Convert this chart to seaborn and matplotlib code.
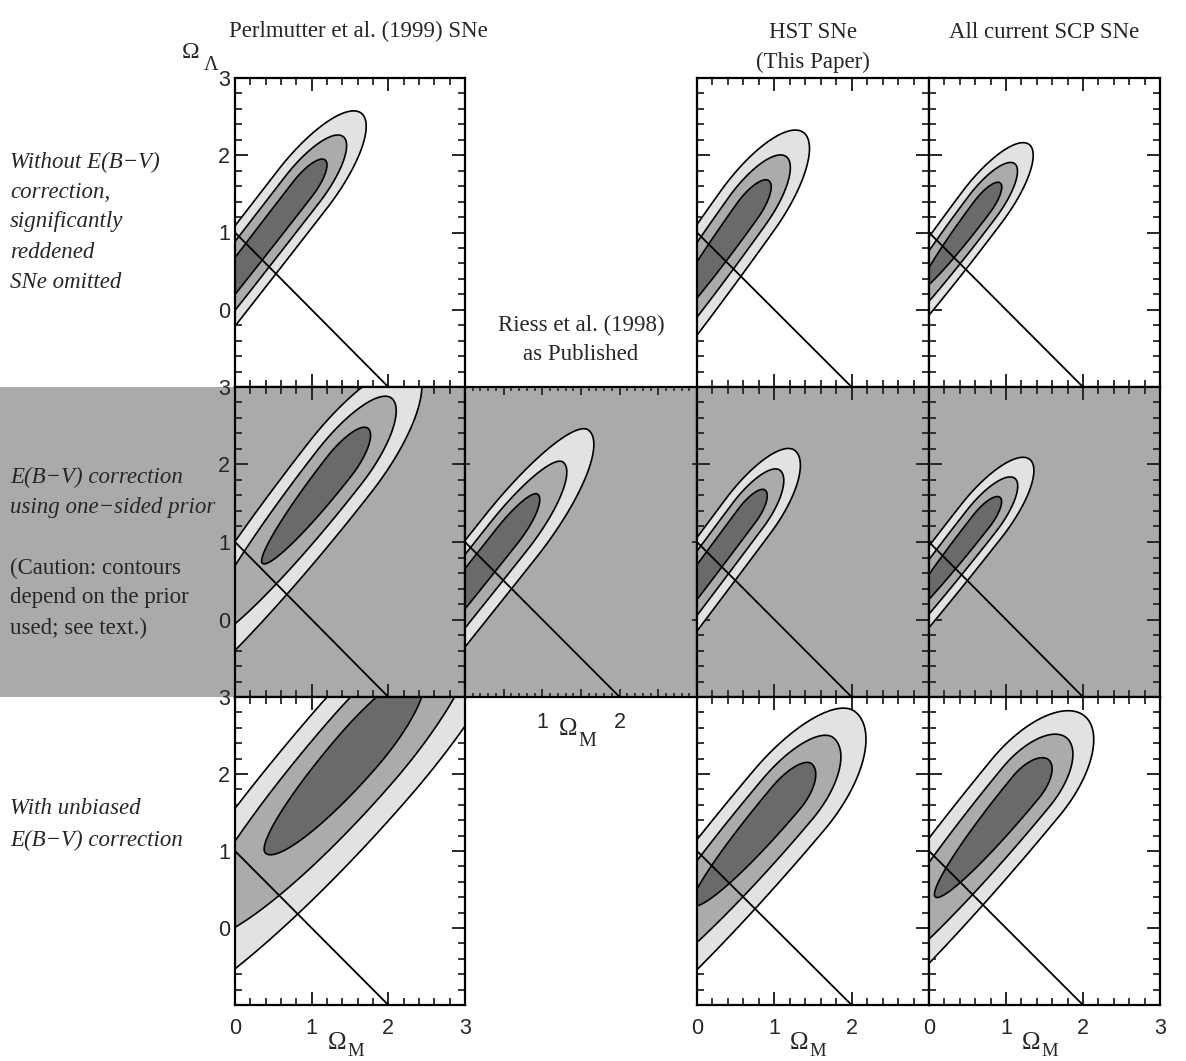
import numpy as np
import seaborn as sns
import matplotlib
matplotlib.use("Agg")
import matplotlib.pyplot as plt
from matplotlib.patches import Rectangle
from matplotlib.ticker import MultipleLocator

sns.set_style("ticks")
plt.rcParams['font.family'] = ['Liberation Sans', 'DejaVu Sans']
SERIF = ['Liberation Serif', 'DejaVu Serif']

# ---- data ----
col_titles = [["Perlmutter et al. (1999) SNe"], ["Riess et al. (1998)", "as Published"],
              ["HST SNe", "(This Paper)"], ["All current SCP SNe"]]
row_notes = [
    ["Without E(B\u2212V)", "correction,", "significantly", "reddened", "SNe omitted"],
    ["E(B\u2212V) correction", "using one\u2212sided prior", "",
     "(Caution: contours", "depend on the prior", "used; see text.)"],
    ["With unbiased", "E(B\u2212V) correction"],
]
row_note_italic = [[1, 1, 1, 1, 1], [1, 1, 0, 0, 0, 0], [1, 1]]

# one entry per panel: likelihood peak, tilt and widths of the contours
panel_row = [0, 0, 0, 1, 1, 1, 1, 2, 2, 2]
panel_col = [0, 2, 3, 0, 1, 2, 3, 0, 2, 3]
peak_om = [0.88, 0.65, 0.69, 1.35, 0.53, 0.64, 0.68, 1.58, 1.13, 1.26]
peak_ol = [1.56, 1.28, 1.33, 1.98, 1.10, 1.35, 1.27, 2.33, 1.71, 1.83]
tilt_deg = [52.0, 54.5, 53.0, 51.7, 51.5, 53.2, 51.7, 49.0, 50.0, 50.5]
sig_up = [0.48, 0.48, 0.39, 0.62, 0.66, 0.40, 0.39, 1.30, 0.55, 0.46]
sig_down = [4.5, 2.0, 1.34, 1.6, 5.0, 4.0, 1.72, 1.80, 1.85, 1.85]
sig_perp_hi = [0.155, 0.165, 0.125, 0.19, 0.14, 0.13, 0.13, 0.28, 0.20, 0.22]   # upper-left flank
sig_perp_lo = [0.155, 0.165, 0.125, 0.21, 0.19, 0.15, 0.13, 0.36, 0.26, 0.22]   # lower-right flank
dchi2 = [1.0, 3.24, 6.76]

# flat universe line
flat_om = [0.0, 2.0]
flat_ol = [1.0, -1.0]

fills = ['#6a6a6a', '#ababab', '#e2e2e2']
band_gray = '#aaaaaa'

# ---- layout (pixels of the original) ----
W, H = 1186, 1061
col_x = [235, 465, 697, 929, 1160]
row_y = [78, 387, 697, 1005]
unit = 77.0

fig = plt.figure(figsize=(W / 100, H / 100), dpi=100)
fig.add_artist(Rectangle((0, 1 - row_y[2] / H), col_x[4] / W, (row_y[2] - row_y[1]) / H,
                         transform=fig.transFigure, facecolor=band_gray, edgecolor='none', zorder=0))


def ftext(px, py, s, **kw):
    return fig.text(px / W, 1 - py / H, s, **kw)


om = np.linspace(-0.3, 3.3, 540)
ol = np.linspace(-1.3, 3.3, 690)
OM, OL = np.meshgrid(om, ol)


def chi2_surface(i):
    t = np.radians(tilt_deg[i])
    dx, dy = OM - peak_om[i], OL - peak_ol[i]
    u = dx * np.cos(t) + dy * np.sin(t)
    v = -dx * np.sin(t) + dy * np.cos(t)
    su = np.where(u > 0, sig_up[i], sig_down[i])
    sv = np.where(v > 0, sig_perp_hi[i], sig_perp_lo[i])
    return (u / su) ** 2 + (v / sv) ** 2


for i in range(len(panel_row)):
    r, c = panel_row[i], panel_col[i]
    ax = fig.add_axes([col_x[c] / W, 1 - row_y[r + 1] / H,
                       (col_x[c + 1] - col_x[c]) / W, (row_y[r + 1] - row_y[r]) / H])
    ax.set_facecolor(band_gray if r == 1 else 'white')
    z = chi2_surface(i)
    ax.contourf(OM, OL, z, levels=[0] + dchi2, colors=fills)
    ax.contour(OM, OL, z, levels=dchi2, colors='black', linewidths=1.2)
    sns.lineplot(x=flat_om, y=flat_ol, ax=ax, color='black', lw=1.3,
                 sort=False, estimator=None, legend=False)
    ax.set_xlim(0, 3)
    ax.set_ylim(-1, 3)
    ax.set_xlabel('')
    ax.set_ylabel('')
    for sp in ax.spines.values():
        sp.set_linewidth(1.6)
        sp.set_color('black')
        sp.set_visible(True)

    if c == 1:
        ax.set_xticks(np.arange(0, 3.01, 0.5))
        ax.xaxis.set_minor_locator(MultipleLocator(0.1))
        ax.set_xticklabels(['', '', '1', '', '2', '', ''])
        ax.set_yticks([-1, 0, 1, 2, 3])
        ax.tick_params(axis='x', which='major', length=6, width=1.3)
        ax.tick_params(axis='x', which='minor', length=3.2, width=1.2)
        ax.tick_params(axis='y', which='major', length=3.6, width=1.3)
        ax.tick_params(which='both', direction='in', top=True, right=True,
                       labelleft=False, labelbottom=True, labelsize=15.5, pad=11)
    else:
        ax.set_xticks([0, 1, 2, 3])
        ax.set_yticks([-1, 0, 1, 2, 3])
        ax.xaxis.set_minor_locator(MultipleLocator(0.2))
        ax.yaxis.set_minor_locator(MultipleLocator(0.2))
        ax.set_xticklabels(['0', '1', '2', ''] if c == 2 else ['0', '1', '2', '3'])
        ax.set_yticklabels(['', '0', '1', '2', '3'])
        ax.tick_params(which='major', length=9.5, width=1.4)
        ax.tick_params(which='minor', length=4.7, width=1.3)
        ax.tick_params(which='both', direction='in', top=True, right=True,
                       labelleft=(c == 0), labelbottom=(r == 2), labelsize=15.5)
        ax.tick_params(axis='x', pad=9.5)
        ax.tick_params(axis='y', pad=3.5)

# ---- titles ----
title_pos = [[(358, 31)], [(581, 325), (581, 355)], [(813, 32), (813, 62)], [(1044, 32)]]
for lines, spots in zip(col_titles, title_pos):
    for s, (px, py) in zip(lines, spots):
        ftext(px, py, s, family=SERIF, fontsize=16.5, ha='center', va='center')

# ---- row notes ----
note_y = [[162, 192, 222, 253, 283], [477, 507, 537, 568, 598, 628], [808, 840]]
for lines, flags, ys in zip(row_notes, row_note_italic, note_y):
    for s, it, y in zip(lines, flags, ys):
        ftext(10, y, s, family=SERIF, fontsize=16.5, style='italic' if it else 'normal',
              ha='left', va='center', zorder=5)

# ---- axis symbols ----
ftext(191, 53, '\u03a9', family=SERIF, fontsize=17, ha='center', va='center')
ftext(211, 65, '\u039b', family=SERIF, fontsize=14.5, ha='center', va='center')
for c in [0, 2, 3]:
    ftext(col_x[c] + 1.32 * unit, 1043, '\u03a9', family=SERIF, fontsize=18, ha='center', va='center')
    ftext(col_x[c] + 1.57 * unit, 1056, 'M', family=SERIF, fontsize=13.5, ha='center', va='baseline')
ftext(col_x[1] + 1.34 * unit, 729, '\u03a9', family=SERIF, fontsize=18, ha='center', va='center')
ftext(col_x[1] + 1.59 * unit, 741, 'M', family=SERIF, fontsize=14.5, ha='center', va='center')

fig.savefig('out.png', dpi=100, facecolor='white')
